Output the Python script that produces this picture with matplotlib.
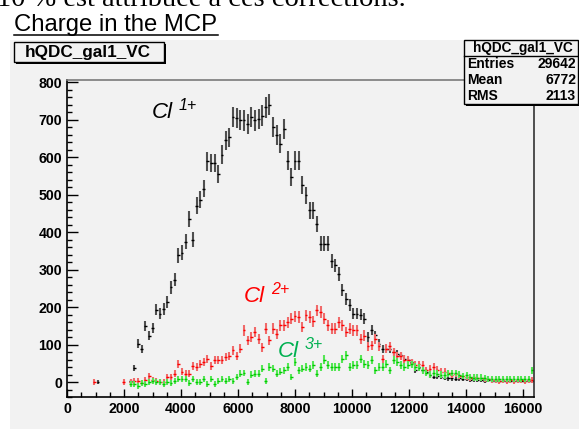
import numpy as np
import matplotlib.pyplot as plt
from matplotlib.patches import Rectangle
from matplotlib.lines import Line2D
from matplotlib.ticker import MultipleLocator

# histogram: 128 bins over 0..16384, values per bin (nan = empty bin)
nbins = 128
xmax = 16384
nan = np.nan

cl1 = [nan]*8 + [1] + [nan]*8 + [
    3, 37, 102, 87, 149, 124, 144, 193, 182, 195,
    213, 253, 273, 338, 345, 374, 436, 380, 471, 487,
    516, 589, 585, 585, 556, 607, 645, 653, 707, 704,
    700, 698, 689, 707, 698, 702, 711, 733, 740, 680,
    660, 636, 676, 591, 547, 591, 591, 525, 498, 458,
    458, 422, 369, 369, 369, 322, 311, 288, 246, 222,
    205, 182, 182, 180, 169, 120, 138, 125, 102, 89,
    89, 89, 80, 74, 71, 62, 58, 53, 31, 40,
    31, 27, 18, 14, 16, 14, 12, 10, 10, 9,
    10, 9, 8, 6, 7, 6, 5, 4, 5, 4,
    3, 4, 3, 3, 2, 3, 2, 3, 2, 3,
    4]

cl2 = [nan]*7 + [1] + [nan]*7 + [1, nan] + [
    0, 4, 2, -2, 5, 15, 6, 3, 0, 0,
    13, 13, 22, 49, 27, 22, 22, 42, 40, 49,
    53, 62, 42, 58, 58, 58, 67, 69, 85, 69,
    89, 138, 111, 120, 133, 116, 93, 142, 111, 142,
    129, 151, 151, 160, 169, 175, 173, 147, 178, 173,
    162, 191, 187, 169, 151, 142, 142, 160, 151, 133,
    142, 138, 138, 116, 124, 95, 98, 116, 95, 62,
    89, 95, 80, 69, 69, 60, 58, 51, 45, 47,
    45, 31, 36, 40, 33, 27, 27, 24, 20, 22,
    16, 16, 14, 12, 14, 12, 10, 7, 7, 5,
    5, 4, 5, 4, 5, 4, 5, 5, 4, 5,
    6]

cl3 = [nan]*17 + [
    -4, -6, -11, -2, -4, 0, 4, 0, 0, -6,
    0, -2, 2, 9, 7, 7, -2, 7, 0, 0,
    7, -6, 9, -6, 4, 7, 4, 9, 4, 13,
    22, 24, 0, 20, 22, 22, 36, 2, 40, 36,
    22, 27, 31, 40, 13, 53, 31, 36, 40, 36,
    45, 22, 40, 60, 45, 40, 40, 40, 62, 71,
    40, 45, 45, 62, 49, 45, 58, 31, 40, 40,
    49, 31, 58, 53, 45, 40, 45, 47, 40, 38,
    31, 24, 20, 24, 22, 20, 18, 22, 24, 24,
    20, 16, 18, 14, 12, 12, 12, 10, 9, 8,
    8, 8, 7, 8, 7, 8, 7, 8, 8, 9,
    31]

stats = [("Entries", "29642"), ("Mean", "6772"), ("RMS", "2113")]

W, H = 579, 429
bg = '#f2f2f2'
sans = 'Liberation Sans'

def fx(px):
    return px / W

def fy(py):
    return 1 - py / H

fig = plt.figure(figsize=(W / 100, H / 100), dpi=100)
fig.patch.set_facecolor('white')

# grey canvas pasted in the document
fig.add_artist(Rectangle((fx(10), 0), 1 - fx(10), fy(40), transform=fig.transFigure,
                         facecolor=bg, edgecolor='none', zorder=0))

# document text above the canvas (cut by the top edge, as in the screenshot)
fig.text(fx(-3), fy(5.5), "10 % est attribuée à ces corrections.", family='Liberation Serif',
         fontsize=20.5, ha='left', va='baseline')
fig.text(fx(14), fy(31), "Charge in the MCP", family=sans, fontsize=17.2,
         ha='left', va='baseline')
fig.add_artist(Line2D([fx(14), fx(218)], [fy(34.5), fy(34.5)], transform=fig.transFigure,
                      color='black', lw=1.1))

ax = fig.add_axes([fx(67), fy(397), fx(534) - fx(67), fy(80) - fy(397)])
ax.set_facecolor(bg)

centers = (np.arange(nbins) + 0.5) * xmax / nbins
half = 50

series = [
    (cl1, '#4f4f4f', 'black', 30),
    (cl2, '#f06a6a', '#ff0000', 60),
    (cl3, '#55e655', '#00cc00', 60),
]
for vals, vcol, hcol, c in series:
    y = np.array(vals, dtype=float)
    err = np.sqrt(np.abs(y) + c)
    ax.errorbar(centers, y, yerr=err, fmt='none', ecolor=vcol, elinewidth=1.5, capsize=0)
    ax.errorbar(centers, y, xerr=half, fmt='none', ecolor=hcol, elinewidth=1.0, capsize=0)

ax.set_xlim(0, xmax)
ax.set_ylim(-40, 806)

ax.xaxis.set_major_locator(MultipleLocator(2000))
ax.xaxis.set_minor_locator(MultipleLocator(500))
ax.yaxis.set_major_locator(MultipleLocator(100))
ax.yaxis.set_minor_locator(MultipleLocator(20))
ax.tick_params(axis='both', which='both', direction='in', top=False, right=False,
               labelsize=10.2, color='black')
ax.tick_params(axis='y', which='major', length=8, width=1, pad=3.5)
ax.tick_params(axis='y', which='minor', length=3.5, width=1)
ax.tick_params(axis='x', which='major', length=6, width=1, pad=3.5)
ax.tick_params(axis='x', which='minor', length=3.5, width=1)
for lab in ax.get_xticklabels() + ax.get_yticklabels():
    lab.set_family(sans)
    lab.set_fontweight('bold')
for s in ['left', 'bottom']:
    ax.spines[s].set_color('black')
    ax.spines[s].set_linewidth(1.2)
ax.spines['top'].set_color('#7a7a7a')
ax.spines['right'].set_color('#333333')
ax.spines['top'].set_linewidth(1.2)
ax.spines['right'].set_linewidth(1.2)

# ion labels
labels = [
    (152, 118, "1+", 'black'),
    (244, 302, "2+", '#ff0000'),
    (278, 357, "3+", '#00b050'),
]
for px, py, sup, col in labels:
    fig.text(fx(px), fy(py), "Cl", family=sans, style='italic', fontsize=16,
             color=col, ha='left', va='baseline')
    fig.text(fx(px + 27), fy(py - 8), sup, family=sans, style='italic', fontsize=11.5,
             color=col, ha='left', va='baseline')

# title box
fig.add_artist(Rectangle((fx(16), fy(64)), fx(166) - fx(16), fy(44) - fy(64),
                         transform=fig.transFigure, facecolor='black', edgecolor='none'))
fig.add_artist(Rectangle((fx(14), fy(62)), fx(164) - fx(14), fy(42) - fy(62),
                         transform=fig.transFigure, facecolor=bg, edgecolor='black', lw=1))
fig.text(fx(88), fy(52.5), "hQDC_gal1_VC", family=sans, fontweight='bold', fontsize=12.3,
         ha='center', va='center')

# statistics box
fig.add_artist(Rectangle((fx(466), fy(106)), fx(580) - fx(466), fy(42) - fy(106),
                         transform=fig.transFigure, facecolor='black', edgecolor='none'))
fig.add_artist(Rectangle((fx(464), fy(104)), fx(578) - fx(464), fy(40) - fy(104),
                         transform=fig.transFigure, facecolor=bg, edgecolor='black', lw=1))
fig.add_artist(Line2D([fx(464), fx(578)], [fy(56), fy(56)], transform=fig.transFigure,
                      color='black', lw=1))
fig.text(fx(523), fy(48), "hQDC_gal1_VC", family=sans, fontweight='bold', fontsize=9.8,
         ha='center', va='center')
for k, (name, val) in enumerate(stats):
    yy = fy(64.5 + 16 * k)
    fig.text(fx(467), yy, name, family=sans, fontweight='bold', fontsize=10,
             ha='left', va='center')
    fig.text(fx(576), yy, val, family=sans, fontweight='bold', fontsize=10,
             ha='right', va='center')

fig.savefig('out.png', dpi=100)
